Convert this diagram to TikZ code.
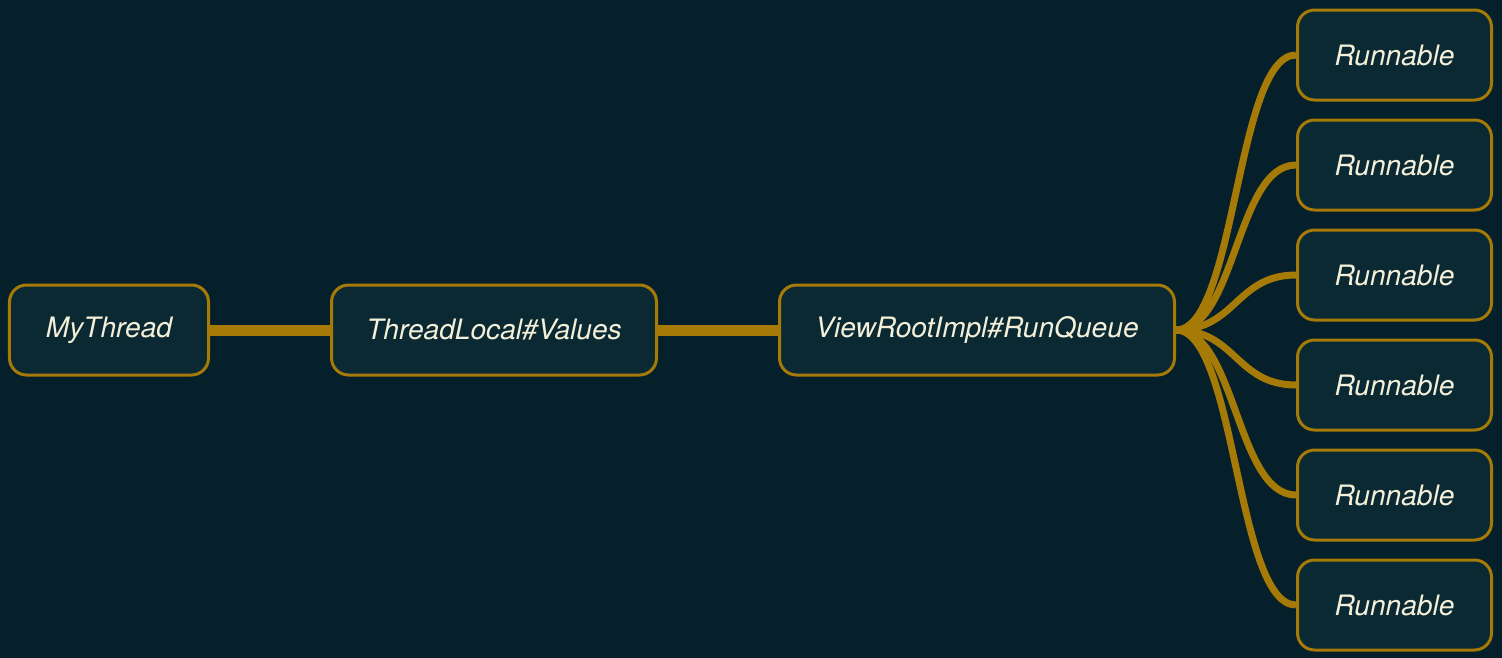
\documentclass[tikz,border=0pt]{standalone}
\usepackage{fontspec}
\setmainfont{TeX Gyre Heros}
\usepackage{tikz}
\usetikzlibrary{positioning}
\definecolor{bgdark}{HTML}{05202A}
\definecolor{boxfill}{HTML}{0A2933}
\definecolor{gold}{HTML}{A67A06}
\definecolor{cream}{HTML}{F4EFD8}
\tikzset{
  topic/.style={draw=gold, line width=0.06cm, rounded corners=0.34cm, fill=boxfill, text=cream,
    font=\fontsize{16}{19}\selectfont\itshape, minimum height=1.8cm, align=center},
  leaf/.style={topic, minimum width=3.88cm},
  trunk/.style={draw=gold, line width=0.22cm},
  branch/.style={draw=gold, line width=0.14cm},
}

\begin{document}
\begin{tikzpicture}[node distance=0.34cm and 2.4cm]
  \fill[bgdark] (0,0) rectangle (30.04,-13.16);
  \useasboundingbox (0,0) rectangle (30.04,-13.16);

  \node[topic, minimum width=3.98cm] (thread) at (2.18,-6.6) {MyThread};
  \node[topic, minimum width=6.5cm, right=of thread] (values) {ThreadLocal\#Values};
  \node[topic, minimum width=7.9cm, right=of values] (queue) {ViewRootImpl\#RunQueue};

  \node[leaf, right=of queue, yshift=1.1cm] (run3) {Runnable};
  \node[leaf, above=of run3] (run2) {Runnable};
  \node[leaf, above=of run2] (run1) {Runnable};
  \node[leaf, below=of run3] (run4) {Runnable};
  \node[leaf, below=of run4] (run5) {Runnable};
  \node[leaf, below=of run5] (run6) {Runnable};

  \draw[trunk] (thread) -- (values);
  \draw[trunk] (values) -- (queue);

  \draw[branch] (queue.east) .. controls +(1.2,0) and +(-1.2,0) .. (run1.west);
  \draw[branch] (queue.east) .. controls +(1.2,0) and +(-1.2,0) .. (run2.west);
  \draw[branch] (queue.east) .. controls +(1.2,0) and +(-1.2,0) .. (run3.west);
  \draw[branch] (queue.east) .. controls +(1.2,0) and +(-1.2,0) .. (run4.west);
  \draw[branch] (queue.east) .. controls +(1.2,0) and +(-1.2,0) .. (run5.west);
  \draw[branch] (queue.east) .. controls +(1.2,0) and +(-1.2,0) .. (run6.west);
\end{tikzpicture}
\end{document}
